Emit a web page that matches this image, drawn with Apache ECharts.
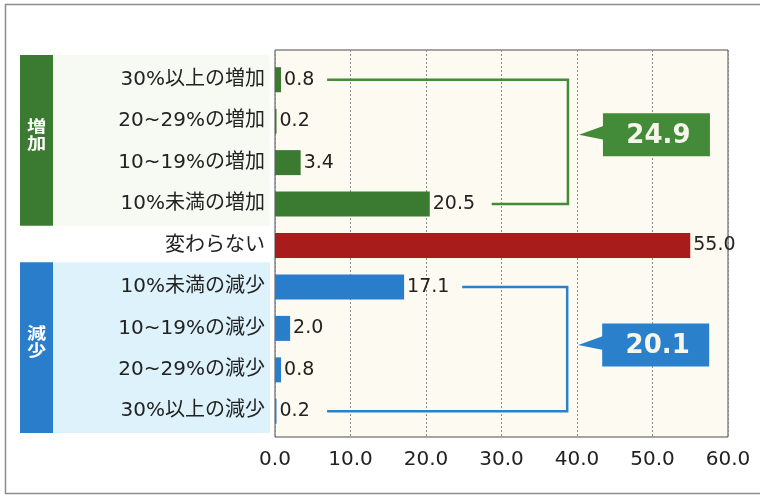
<!DOCTYPE html>
<html>
<head>
<meta charset="utf-8">
<script src="https://cdn.jsdelivr.net/npm/echarts@6/dist/echarts.min.js"></script>
<style>
  html, body { margin: 0; padding: 0; background: #ffffff; }
  #chart { width: 760px; height: 497px; }
</style>
</head>
<body>
<div id="chart"></div>
<script>
// Change categories, top to bottom
const categories = [
  '30%以上の増加', '20~29%の増加', '10~19%の増加', '10%未満の増加',
  '変わらない',
  '10%未満の減少', '10~19%の減少', '20~29%の減少', '30%以上の減少'
];
// Share of respondents (%)
const values = [0.8, 0.2, 3.4, 20.5, 55.0, 17.1, 2.0, 0.8, 0.2];
// Group of each row: 'up', 'same', 'down'
const groups = ['up', 'up', 'up', 'up', 'same', 'down', 'down', 'down', 'down'];
// Group totals shown in the callouts
const upTotal = 24.9;
const downTotal = 20.1;
// Value axis ticks
const xTicks = [0, 10, 20, 30, 40, 50, 60];

const groupColors = { up: '#3b7a31', same: '#a81c1c', down: '#2a7dca' };
const FONT = "'DejaVu Sans', 'Noto Sans CJK JP', sans-serif";

const chart = echarts.init(document.getElementById('chart'), null, { renderer: 'canvas' });

const option = {
  animation: false,
  backgroundColor: '#ffffff',
  grid: [
    // frame with the dotted value grid
    { left: 275, top: 50, width: 453, height: 387, show: true,
      backgroundColor: '#fdfbf1', borderColor: '#4a4a4a', borderWidth: 1, containLabel: false },
    // bars
    { left: 275, top: 59, width: 453, height: 373, containLabel: false }
  ],
  xAxis: [
    { gridIndex: 0, type: 'value', min: xTicks[0], max: xTicks[xTicks.length - 1], interval: 10,
      axisLine: { show: false }, axisTick: { show: false },
      axisLabel: { margin: 13, fontSize: 20, color: '#222', fontFamily: FONT,
        formatter: v => v.toFixed(1) },
      splitLine: { show: true, lineStyle: { type: [2, 2], color: '#8a8a8a', width: 1 } } },
    { gridIndex: 1, type: 'value', min: xTicks[0], max: xTicks[xTicks.length - 1], show: false }
  ],
  yAxis: [
    { gridIndex: 0, type: 'value', show: false, splitLine: { show: false } },
    { gridIndex: 1, type: 'category', data: categories, inverse: true,
      axisLine: { show: false }, axisTick: { show: false },
      axisLabel: { margin: 10, fontSize: 20, color: '#222', fontFamily: FONT } }
  ],
  series: [{
    type: 'bar',
    xAxisIndex: 1, yAxisIndex: 1,
    barWidth: 25,
    data: values.map((v, i) => ({ value: v, itemStyle: { color: groupColors[groups[i]] } })),
    label: {
      show: true, position: 'right', distance: 3,
      fontSize: 19, color: '#222', fontFamily: FONT,
      formatter: p => p.value.toFixed(1)
    }
  }]
};
chart.setOption(option);

// Annotation layer: side group panels, brackets and callouts
function px(v, row) {
  return chart.convertToPixel({ xAxisIndex: 1, yAxisIndex: 1 }, [v, row]);
}
const rowY = i => px(0, i)[1];
const band = rowY(1) - rowY(0);
const x0 = px(0, 0)[0];

const elements = [];

// outer frame
elements.push({ type: 'rect', z: -10, silent: true,
  shape: { x: 5.5, y: 4.5, width: 800, height: 489 },
  style: { fill: 'none', stroke: '#8d8d8d', lineWidth: 1.5 } });

function sidePanel(first, last, color, panelFill, text) {
  const top = rowY(first) - band / 2 - 4;
  const bottom = rowY(last) + band / 2 + 1;
  elements.push({ type: 'rect', z: -5, silent: true,
    shape: { x: 53, y: top, width: x0 - 58, height: bottom - top },
    style: { fill: panelFill } });
  elements.push({ type: 'rect', z: 1, silent: true,
    shape: { x: 20, y: top, width: 33, height: bottom - top },
    style: { fill: color } });
  // vertical group title, slightly widened
  elements.push({ type: 'text', z: 2, silent: true,
    x: 36.5, y: (top + bottom) / 2 - 6, scaleX: 1.2,
    style: { x: 0, y: 0, text: text.split('').join('\n'),
      fill: '#ffffff', font: "bold 16px 'Noto Sans CJK JP', sans-serif",
      align: 'center', verticalAlign: 'middle', lineHeight: 17 } });
}
sidePanel(0, 3, '#3b7a31', '#f6faf2', '増加');
sidePanel(5, 8, '#2a7dca', '#ddf2fb', '減少');

function bracket(topRow, topStart, bottomRow, bottomStart, edge, color, total, centerRow) {
  const yT = rowY(topRow), yB = rowY(bottomRow);
  const xE = px(edge, 0)[0];
  elements.push({ type: 'polyline', z: 3, silent: true,
    shape: { points: [[px(topStart, 0)[0], yT], [xE, yT], [xE, yB], [px(bottomStart, 0)[0], yB]] },
    style: { stroke: color, lineWidth: 2.5, fill: 'none' } });
  const yC = rowY(0) + band * centerRow;
  const tipX = xE + 11, boxX = xE + 35, boxW = 107, boxH = 43;
  elements.push({ type: 'polygon', z: 3, silent: true,
    shape: { points: [[tipX, yC], [boxX + 1, yC - 9], [boxX + 1, yC + 5]] },
    style: { fill: color } });
  elements.push({ type: 'rect', z: 3, silent: true,
    shape: { x: boxX, y: yC - boxH / 2, width: boxW, height: boxH },
    style: { fill: color } });
  elements.push({ type: 'text', z: 4, silent: true,
    style: { x: boxX + boxW / 2 + 2, y: yC + 1, text: total.toFixed(1), fill: '#f6f6ea',
      font: "bold 26px 'DejaVu Sans', sans-serif", align: 'center', verticalAlign: 'middle' } });
}
bracket(0, 6.9, 3, 28.7, 38.8, '#438b38', upTotal, 1.33);
bracket(5, 24.8, 8, 6.9, 38.7, '#2b80cc', downTotal, 6.4);

chart.setOption({ graphic: { elements } });
</script>
</body>
</html>
